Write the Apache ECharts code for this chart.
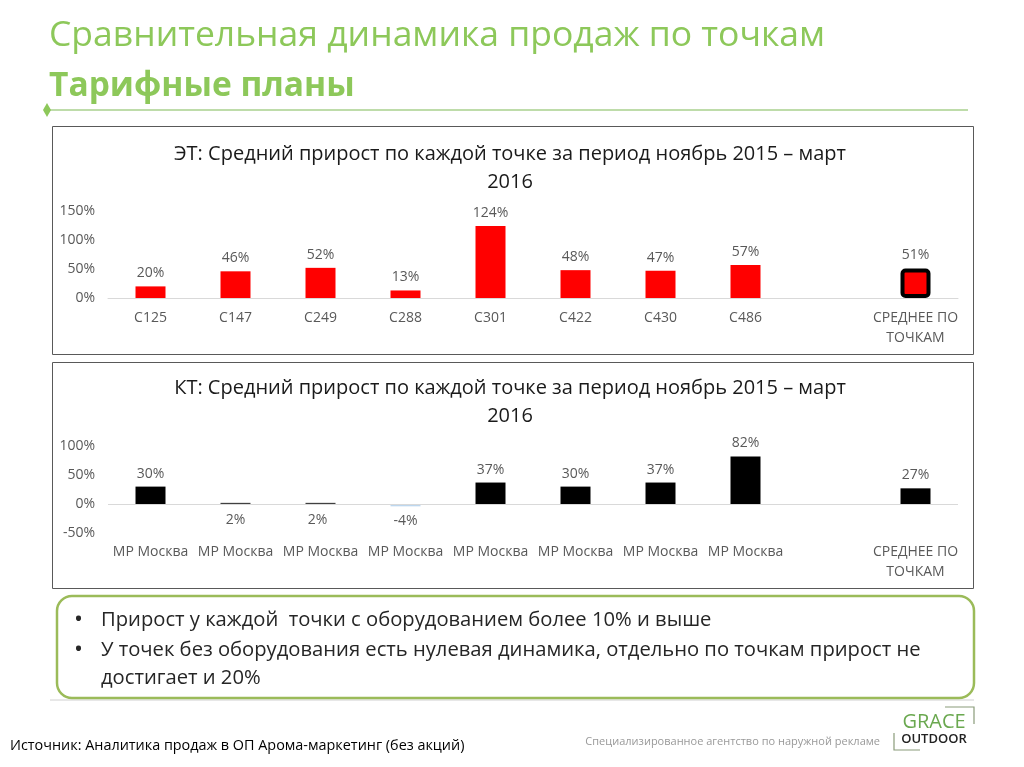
<!DOCTYPE html>
<html>
<head>
<meta charset="utf-8">
<script src="https://cdn.jsdelivr.net/npm/echarts@6/dist/echarts.min.js"></script>
<style>
html,body{margin:0;padding:0;background:#fff;}
#main{width:1024px;height:767px;}
</style>
</head>
<body>
<div id="main"></div>
<script>
// ---- data ----
const pageTitle = 'Сравнительная динамика продаж по точкам';
const pageSubtitle = 'Тарифные планы';
const etTitle = 'ЭТ: Средний прирост по каждой точке за период ноябрь 2015 – март\n2016';
const ktTitle = 'КТ: Средний прирост по каждой точке за период ноябрь 2015 – март\n2016';
const etCategories = ['С125', 'С147', 'С249', 'С288', 'С301', 'С422', 'С430', 'С486', '', 'СРЕДНЕЕ ПО\nТОЧКАМ'];
const etValues = [20, 46, 52, 13, 124, 48, 47, 57, null, 51];
const ktCategories = ['МР Москва', 'МР Москва', 'МР Москва', 'МР Москва', 'МР Москва', 'МР Москва', 'МР Москва', 'МР Москва', '', 'СРЕДНЕЕ ПО\nТОЧКАМ'];
const ktValues = [30, 2, 2, -4, 37, 30, 37, 82, null, 27];
const etAxis = { min: 0, max: 150, interval: 50 };
const ktAxis = { min: -50, max: 100, interval: 50 };
const bullets = [
  'Прирост у каждой  точки с оборудованием более 10% и выше',
  'У точек без оборудования есть нулевая динамика, отдельно по точкам прирост не',
  'достигает и 20%'
];
const sourceText = 'Источник: Аналитика продаж в ОП Арома-маркетинг (без акций)';
const agencyText = 'Специализированное агентство по наружной рекламе';

// ---- chart ----
const FONT = "'Open Sans', 'DejaVu Sans', sans-serif";
const GREEN = '#8DC85A';
const GRAY = '#595959';

const etData = etValues.map((v, i) => {
  if (i === etValues.length - 1) {
    return { value: v, itemStyle: { color: '#FF0000', borderColor: '#000', borderWidth: 4, borderRadius: 3 } };
  }
  return v;
});
const ktData = ktValues.map((v) => {
  if (v === null) return v;
  if (v < 0) return { value: v, itemStyle: { color: '#BDD7EE' }, label: { position: 'bottom', distance: 8 } };
  if (v < 5) return { value: v, itemStyle: { color: '#404040' } };
  return v;
});

const labelCommon = { show: true, position: 'top', distance: 6, formatter: '{c}%', color: GRAY, fontSize: 14, fontFamily: FONT };
const axisLabelCommon = { color: GRAY, fontSize: 14, fontFamily: FONT, interval: 0, lineHeight: 20 };

function txt(x, y, text, opts) {
  return Object.assign({ type: 'text', x: x, y: y, silent: true,
    style: Object.assign({ text: text, fontFamily: FONT, verticalAlign: 'middle', textVerticalAlign: 'middle' }, opts || {}) });
}

const graphics = [
  txt(49, 36, pageTitle, { fontSize: 35.5, fill: GREEN }),
  txt(49, 86, pageSubtitle, { fontSize: 33.5, fontWeight: 'bold', fill: GREEN }),
  { type: 'line', silent: true, shape: { x1: 47, y1: 110, x2: 968, y2: 110 }, style: { stroke: '#A9D18E', lineWidth: 1.5 } },
  { type: 'polygon', silent: true, shape: { points: [[47, 103], [51, 110], [47, 117], [43, 110]] }, style: { fill: GREEN } },
  { type: 'rect', silent: true, shape: { x: 52.5, y: 126.5, width: 921, height: 228 }, style: { fill: 'none', stroke: '#595959', lineWidth: 1 } },
  { type: 'rect', silent: true, shape: { x: 52.5, y: 362.5, width: 921, height: 226 }, style: { fill: 'none', stroke: '#595959', lineWidth: 1 } },
  txt(510, 168, etTitle, { fontSize: 20, fill: '#1a1a1a', align: 'center', textAlign: 'center', lineHeight: 28 }),
  txt(510, 402, ktTitle, { fontSize: 20, fill: '#1a1a1a', align: 'center', textAlign: 'center', lineHeight: 28 }),
  { type: 'line', silent: true, shape: { x1: 50, y1: 700, x2: 974, y2: 700 }, style: { stroke: '#D0D0D0', lineWidth: 1 } },
  { type: 'rect', silent: true, shape: { x: 57, y: 596, width: 917, height: 102, r: 15 }, style: { fill: '#fff', stroke: '#9BBB59', lineWidth: 2.5 } },
  txt(74, 620, '•', { fontSize: 24, fill: '#262626' }),
  txt(74, 650, '•', { fontSize: 24, fill: '#262626' }),
  txt(101, 620, bullets[0], { fontSize: 20.2, fill: '#262626' }),
  txt(101, 650, bullets[1], { fontSize: 20.2, fill: '#262626' }),
  txt(101, 678, bullets[2], { fontSize: 20.2, fill: '#262626' }),
  txt(10, 746, sourceText, { fontSize: 14.4, fill: '#000' }),
  txt(880, 742, agencyText, { fontSize: 11, fill: '#999', align: 'right', textAlign: 'right' }),
  txt(934, 722, 'GRACE', { fontSize: 20, fill: '#6AA84F', align: 'center', textAlign: 'center' }),
  txt(934, 739, 'OUTDOOR', { fontSize: 13, fontWeight: 600, fill: '#222', align: 'center', textAlign: 'center' }),
  { type: 'polyline', silent: true, shape: { points: [[945, 707], [974, 707], [974, 724]] }, style: { stroke: '#8A9C7A', lineWidth: 1.2, fill: 'none' } },
  { type: 'polyline', silent: true, shape: { points: [[894, 733], [894, 750], [920, 750]] }, style: { stroke: '#8A9C7A', lineWidth: 1.2, fill: 'none' } }
];

const chart = echarts.init(document.getElementById('main'), null, { renderer: 'canvas' });
chart.setOption({
  backgroundColor: '#fff',
  animation: false,
  textStyle: { fontFamily: FONT },
  graphic: graphics,
  grid: [
    { left: 108, width: 850, top: 211, height: 87 },
    { left: 108, width: 850, top: 446, height: 87 }
  ],
  xAxis: [
    { type: 'category', gridIndex: 0, data: etCategories, axisTick: { show: false },
      axisLine: { lineStyle: { color: '#D9D9D9', width: 1 } },
      axisLabel: Object.assign({ margin: 10 }, axisLabelCommon) },
    { type: 'category', gridIndex: 1, data: ktCategories, axisTick: { show: false },
      axisLine: { show: false, onZero: false },
      axisLabel: Object.assign({ margin: 9 }, axisLabelCommon) }
  ],
  yAxis: [
    { type: 'value', gridIndex: 0, min: etAxis.min, max: etAxis.max, interval: etAxis.interval,
      splitLine: { show: false }, axisLine: { show: false }, axisTick: { show: false },
      axisLabel: { formatter: '{value}%', color: GRAY, fontSize: 14, fontFamily: FONT, margin: 13 } },
    { type: 'value', gridIndex: 1, min: ktAxis.min, max: ktAxis.max, interval: ktAxis.interval,
      splitLine: { show: false }, axisLine: { show: false }, axisTick: { show: false },
      axisLabel: { formatter: '{value}%', color: GRAY, fontSize: 14, fontFamily: FONT, margin: 13 } }
  ],
  series: [
    { type: 'bar', xAxisIndex: 0, yAxisIndex: 0, data: etData, barWidth: 30,
      itemStyle: { color: '#FF0000' }, label: labelCommon },
    { type: 'bar', xAxisIndex: 1, yAxisIndex: 1, data: ktData, barWidth: 30,
      itemStyle: { color: '#000000' }, label: labelCommon,
      labelLayout: function (p) {
        if (p.dataIndex === 1 || p.dataIndex === 2) {
          const cx = p.rect.x + p.rect.width / 2 - p.labelRect.width / 2 - (p.dataIndex === 2 ? 3 : 0);
          return { x: cx, y: p.rect.y + p.rect.height + 9 };
        }
        return {};
      },
      markLine: { silent: true, symbol: 'none', label: { show: false },
        lineStyle: { color: '#D9D9D9', type: 'solid', width: 1 },
        data: [{ yAxis: 0 }] } }
  ]
});
</script>
</body>
</html>
